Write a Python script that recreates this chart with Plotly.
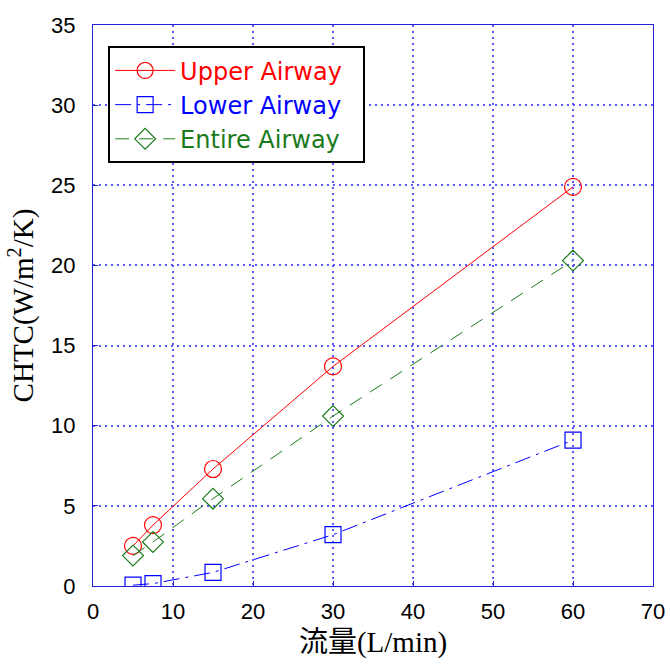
import plotly.graph_objects as go

flow = [5, 7.5, 15, 30, 60]
upper = [2.5, 3.8, 7.3, 13.7, 24.9]
lower = [0.05, 0.15, 0.85, 3.2, 9.1]
entire = [1.9, 2.75, 5.45, 10.6, 20.3]

x_ticks = [0, 10, 20, 30, 40, 50, 60, 70]
y_ticks = [0, 5, 10, 15, 20, 25, 30, 35]

RED = "#ff0000"
BLUE = "#0000ff"
GREEN = "#1a7a1a"

fig = go.Figure()
fig.add_trace(go.Scatter(
    x=flow, y=upper, mode="lines+markers",
    name=f"<span style='color:{RED}'>Upper Airway</span>&nbsp;&nbsp;",
    line=dict(color=RED, width=1),
    marker=dict(symbol="circle-open", size=17, color=RED, line=dict(width=1.2)),
))
fig.add_trace(go.Scatter(
    x=flow, y=lower, mode="lines+markers",
    name=f"<span style='color:{BLUE}'>Lower Airway</span>",
    line=dict(color=BLUE, width=1, dash="16px,6px,3px,6px"),
    marker=dict(symbol="square-open", size=16, color=BLUE, line=dict(width=1.2)),
))
fig.add_trace(go.Scatter(
    x=flow, y=entire, mode="lines+markers",
    name=f"<span style='color:{GREEN}'>Entire Airway</span>",
    line=dict(color=GREEN, width=1, dash="14px,10px"),
    marker=dict(symbol="diamond-open", size=16, color=GREEN, line=dict(width=1.2)),
))

axis_common = dict(
    showline=True, linecolor="#2222dd", linewidth=1, mirror=True,
    ticks="inside", ticklen=5, tickcolor="#2222dd",
    showgrid=True, gridcolor="#5a5aff", griddash="2px,4px", gridwidth=1.5,
    zeroline=False,
    tickfont=dict(family="Liberation Sans, Arial, sans-serif", size=22, color="black"),
)

fig.update_xaxes(range=[0, 70], tickvals=x_ticks, ticklabelstandoff=6,
                 title=dict(text="流量(L/min)", standoff=8,
                            font=dict(family="Liberation Serif, Noto Sans CJK JP, serif", size=29, color="black")),
                 **axis_common)
fig.update_yaxes(range=[0, 35], tickvals=y_ticks, ticklabelstandoff=12,
                 title=dict(text="CHTC(W/m<sup>2</sup>/K)", standoff=8,
                            font=dict(family="Liberation Serif, Times New Roman, serif", size=29, color="black")),
                 **axis_common)

fig.update_layout(
    width=670, height=664,
    margin=dict(l=93, r=17, t=25, b=78, autoexpand=False),
    plot_bgcolor="white", paper_bgcolor="white",
    showlegend=True,
    legend=dict(x=0.027, y=0.962, xanchor="left", yanchor="top",
                bgcolor="white", bordercolor="black", borderwidth=2,
                font=dict(family="DejaVu Sans, sans-serif", size=24),
                itemwidth=60, tracegroupgap=0),
)

fig.write_html("out.html", config={"displayModeBar": False},
               post_script="document.body.style.margin='0';")
